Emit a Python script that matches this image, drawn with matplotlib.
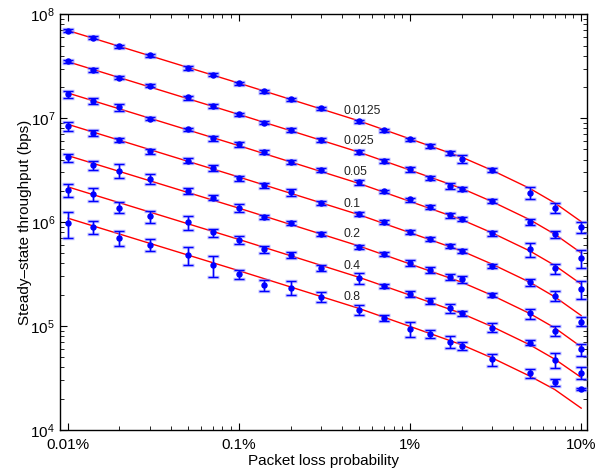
import numpy as np
import matplotlib
matplotlib.use('Agg')
import matplotlib.pyplot as plt
from matplotlib.ticker import FixedLocator, FixedFormatter, LogLocator, NullFormatter

plt.rcParams['font.family'] = ['Liberation Sans', 'DejaVu Sans']

# packet loss probabilities of the measurements
p_meas = [1e-4, 1.4e-4, 2e-4, 3e-4, 5e-4, 7e-4, 1e-3, 1.4e-3, 2e-3, 3e-3,
          5e-3, 7e-3, 1e-2, 1.3e-2, 1.7e-2, 2e-2, 3e-2, 5e-2, 7e-2, 1e-1]

# RTT values (s) labelling each curve
rtt = ['0.0125', '0.025', '0.05', '0.1', '0.2', '0.4', '0.8']

# measured mean throughput (bps)
thr_0125 = [6.97e7, 5.92e7, 4.92e7, 4.04e7, 3.07e7, 2.63e7, 2.16e7, 1.82e7, 1.52e7, 1.24e7,
            9.35e6, 7.62e6, 6.24e6, 5.35e6, 4.65e6, 4.04e6, 3.16e6, 1.91e6, 1.38e6, 8.89e5]
thr_025 = [3.51e7, 2.90e7, 2.46e7, 2.05e7, 1.58e7, 1.31e7, 1.09e7, 9.08e6, 7.67e6, 6.11e6,
           4.74e6, 3.89e6, 3.24e6, 2.67e6, 2.22e6, 2.07e6, 1.60e6, 9.93e5, 7.62e5, 4.48e5]
thr_05 = [1.69e7, 1.47e7, 1.28e7, 9.84e6, 7.78e6, 6.38e6, 5.58e6, 4.68e6, 3.80e6, 3.16e6,
          2.41e6, 1.99e6, 1.65e6, 1.40e6, 1.17e6, 1.07e6, 7.78e5, 5.47e5, 3.59e5, 2.27e5]
thr_1 = [8.38e6, 7.18e6, 6.14e6, 4.79e6, 3.89e6, 3.33e6, 2.63e6, 2.27e6, 1.93e6, 1.53e6,
         1.19e6, 9.93e5, 7.96e5, 6.87e5, 5.92e5, 5.30e5, 3.80e5, 2.63e5, 1.95e5, 1.10e5]
thr_2 = [4.19e6, 3.53e6, 3.11e6, 2.59e6, 2.00e6, 1.71e6, 1.38e6, 1.12e6, 9.70e5, 7.67e5,
         5.79e5, 4.92e5, 4.01e5, 3.45e5, 2.94e5, 2.81e5, 1.99e5, 1.32e5, 8.95e4, 5.97e4]
thr_4 = [2.05e6, 1.86e6, 1.38e6, 1.14e6, 9.93e5, 7.96e5, 6.71e5, 5.47e5, 4.82e5, 3.64e5,
         2.88e5, 2.43e5, 2.02e5, 1.74e5, 1.48e5, 1.32e5, 9.64e4, 6.92e4, 4.71e4, 3.56e4]
thr_8 = [9.70e5, 9.02e5, 7.06e5, 6.01e5, 4.82e5, 3.86e5, 3.14e5, 2.48e5, 2.33e5, 1.91e5,
         1.43e5, 1.19e5, 9.35e4, 8.38e4, 7.06e4, 6.47e4, 4.79e4, 3.51e4, 2.88e4, 2.49e4]

# error bar half-widths (bps)
err_0125 = [2.3e6, 1.95e6, 1.6e6, 1.3e6, 1.35e6, 8.7e5, 7.1e5, 6.0e5, 5.0e5, 4.1e5,
            3.1e5, 2.5e5, 2.1e5, 2.4e5, 2.0e5, 3.6e5, 1.4e5, 2.5e5, 1.5e5, 1.1e5]
err_025 = [1.2e6, 1.3e6, 8.0e5, 6.8e5, 7.0e5, 5.8e5, 3.6e5, 3.0e5, 3.4e5, 2.7e5,
           2.1e5, 1.7e5, 1.8e5, 1.2e5, 1.5e5, 9.0e4, 7.0e4, 6.6e4, 6.7e4, 8.5e4]
err_05 = [1.23e6, 9.7e5, 9.9e5, 3.2e5, 3.4e5, 3.5e5, 2.5e5, 2.1e5, 1.7e5, 1.4e5,
          1.3e5, 6.6e4, 7.3e4, 6.2e4, 6.4e4, 4.7e4, 4.3e4, 8.5e4, 4.0e4, 4.7e4]
err_1 = [8.7e5, 4.7e5, 2.7e5, 2.6e5, 2.1e5, 2.2e5, 1.7e5, 1.25e5, 1.3e5, 6.7e4,
         5.2e4, 4.4e4, 3.5e4, 3.0e4, 2.6e4, 2.3e4, 1.7e4, 2.3e4, 2.1e4, 1.1e4]
err_2 = [3.7e5, 3.7e5, 4.8e5, 2.85e5, 1.3e5, 9.4e4, 1.2e5, 4.9e4, 4.3e4, 3.4e4,
         2.5e4, 2.2e4, 2.6e4, 2.3e4, 1.9e4, 1.9e4, 8.8e3, 1.45e4, 9.8e3, 7.9e3]
err_4 = [3.0e5, 2.5e5, 1.7e5, 1.5e5, 1.47e5, 7.0e4, 5.9e4, 4.2e4, 3.5e4, 2.4e4,
         3.5e4, 1.3e4, 1.3e4, 1.15e4, 1.6e4, 7.3e3, 9.6e3, 3.8e3, 7.3e3, 4.7e3]
err_8 = [2.67e5, 1.26e5, 1.14e5, 8.0e4, 9.6e4, 9.0e4, 3.3e4, 3.0e4, 3.6e4, 2.1e4,
         1.5e4, 7.9e3, 1.5e4, 7.4e3, 9.4e3, 5.7e3, 6.4e3, 3.3e3, 2.1e3, 550]

# model curves (bps), read at these loss probabilities
p_model = [1e-4, 1e-3, 5e-3, 1e-2, 2e-2, 3e-2, 5e-2, 7e-2, 1e-1]
model_0125 = [6.97e7, 2.17e7, 9.44e6, 6.31e6, 4.22e6, 3.16e6, 2.11e6, 1.53e6, 1.01e6]
model_025 = [3.49e7, 1.085e7, 4.72e6, 3.16e6, 2.11e6, 1.58e6, 1.055e6, 7.65e5, 5.05e5]
model_05 = [1.745e7, 5.43e6, 2.36e6, 1.58e6, 1.055e6, 7.9e5, 5.28e5, 3.83e5, 2.53e5]
model_1 = [8.72e6, 2.71e6, 1.18e6, 7.9e5, 5.28e5, 3.95e5, 2.64e5, 1.91e5, 1.26e5]
model_2 = [4.36e6, 1.36e6, 5.9e5, 3.95e5, 2.64e5, 1.98e5, 1.32e5, 9.6e4, 6.3e4]
model_4 = [2.18e6, 6.8e5, 2.95e5, 1.98e5, 1.32e5, 9.9e4, 6.6e4, 4.8e4, 3.2e4]
model_8 = [1.09e6, 3.4e5, 1.48e5, 9.9e4, 6.6e4, 4.95e4, 3.3e4, 2.45e4, 1.62e4]

# where the RTT labels sit
label_x = 4.06e-3
label_y = [1.17e7, 6.0e6, 3.05e6, 1.49e6, 7.62e5, 3.8e5, 1.91e5]

xtick_vals = [1e-4, 1e-3, 1e-2, 1e-1]
xtick_text = ['0.01%', '0.1%', '1%', '10%']

thr = [thr_0125, thr_025, thr_05, thr_1, thr_2, thr_4, thr_8]
err = [err_0125, err_025, err_05, err_1, err_2, err_4, err_8]
model = [model_0125, model_025, model_05, model_1, model_2, model_4, model_8]

fig = plt.figure(figsize=(6.11, 4.74), dpi=100)
ax = fig.add_axes([0.098, 0.093, 0.863, 0.877])

for i in range(len(rtt)):
    ax.plot(p_model, model[i], color='red', lw=1.0, zorder=2)
    # light halo behind the error bars
    ax.errorbar(p_meas, thr[i], yerr=err[i], fmt='none', ecolor='#8c8cff',
                elinewidth=2.0, capsize=4.2, capthick=2.5, alpha=0.55, zorder=3)
    ax.errorbar(p_meas, thr[i], yerr=err[i], fmt='o', color='blue', ms=3.6,
                ecolor='blue', elinewidth=1.0, capsize=3.8, capthick=1.0, zorder=4)
    ax.text(label_x, label_y[i], rtt[i], fontsize=8.8, va='center', ha='left',
            color='#222222')

ax.set_xscale('log')
ax.set_yscale('log')
ax.set_xlim(10 ** -4.047, 10 ** -0.965)
ax.set_ylim(1e4, 1e8)

ax.xaxis.set_major_locator(FixedLocator(xtick_vals))
ax.xaxis.set_major_formatter(FixedFormatter(xtick_text))
ax.xaxis.set_minor_locator(LogLocator(base=10, subs=np.arange(2, 10)))
ax.xaxis.set_minor_formatter(NullFormatter())
ax.yaxis.set_minor_locator(LogLocator(base=10, subs=np.arange(2, 10)))
ax.yaxis.set_minor_formatter(NullFormatter())

ax.tick_params(which='both', direction='in', top=True, right=True, labelsize=11)
ax.tick_params(which='major', length=5)
ax.tick_params(which='minor', length=3)
ax.tick_params(axis='x', which='major', pad=6)
for s in ax.spines.values():
    s.set_linewidth(1.0)

ax.set_xlabel('Packet loss probability', fontsize=11, labelpad=1)
ax.set_ylabel('Steady\u2013state throughput (bps)', fontsize=11, labelpad=-1)

fig.savefig('out.png', dpi=100)
